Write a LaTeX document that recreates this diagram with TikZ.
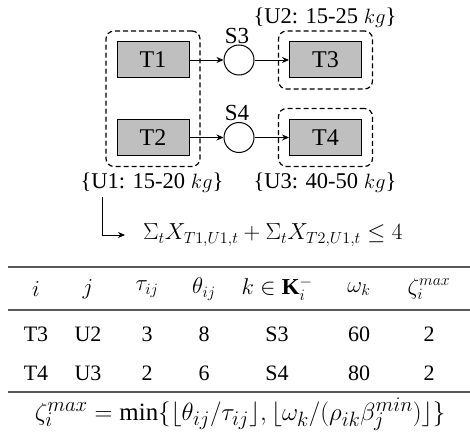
\documentclass[tikz,border=0pt]{standalone}
\usepackage{graphicx}
\usepackage{fontspec}
\setmainfont{Liberation Serif}
\usetikzlibrary{arrows.meta,fit}
\definecolor{boxgray}{RGB}{191,191,191}
\definecolor{rulegray}{RGB}{90,90,90}
\tikzset{
  tbox/.style={draw, line width=1pt, fill=boxgray, minimum width=72pt, minimum height=36pt, inner sep=0pt, font=\fontsize{24}{28}\selectfont},
  sbox/.style={draw, circle, line width=1pt, minimum size=30pt, inner sep=0pt},
  ubox/.style={draw, dashed, dash pattern=on 5pt off 3pt, line width=1.2pt, rounded corners=8pt, inner sep=10.5pt},
  slab/.style={font=\fontsize{23}{26}\selectfont, inner sep=0pt},
  ulab/.style={font=\fontsize{22.5}{26}\selectfont, inner sep=0pt},
  conn/.style={-{Stealth[length=7pt,width=6pt]}, line width=0.8pt},
  trule/.style={draw=rulegray, line width=1.3pt},
  tcell/.style={font=\fontsize{22}{26}\selectfont, inner sep=0pt},
  hcell/.style={font=\fontsize{20.74}{26}\selectfont, inner sep=0pt},
  fcell/.style={font=\fontsize{20.74}{26}\selectfont, inner sep=0pt},
  zcell/.style={font=\fontsize{24.88}{30}\selectfont, inner sep=0pt},
}
\begin{document}
\begin{tikzpicture}[x=1pt,y=-1pt]
\useasboundingbox (0,0) rectangle (470,433);
% process nodes
\node[tbox] (T1) at (153,60) {T1};
\node[tbox] (T2) at (153,137.5) {T2};
\node[tbox] (T3) at (325.5,60) {T3};
\node[tbox] (T4) at (325.5,137.5) {T4};
\node[sbox] (S3) at (239,60) {};
\node[sbox] (S4) at (239,137.5) {};
\node[slab] (S3l) at (237,36) {S3};
\node[slab] (S4l) at (237,113) {S4};
% unit groups
\node[ubox, fit=(T1)(T2)] (U1) {};
\node[ubox, fit=(T3)] (U2) {};
\node[ubox, fit=(T4)] (U3) {};
\node[ulab] (U1l) at (152,183) {\{U1: 15-20 $kg$\}};
\node[ulab] (U2l) at (325,18) {\{U2: 15-25 $kg$\}};
\node[ulab] (U3l) at (325,183) {\{U3: 40-50 $kg$\}};
% connectors
\draw[conn] (T1) -- (S3);
\draw[conn] (S3) -- (T3);
\draw[conn] (T2) -- (S4);
\draw[conn] (S4) -- (T4);
% constraint
\node[fcell, anchor=west] (sumf) at (143,235) {\scalebox{1.12}{$\Sigma_t X_{T1,U1,t} + \Sigma_t X_{T2,U1,t} \leq 4$}};
\coordinate (c1) at (102,197);
\coordinate (c2) at (125,235);
\draw[conn] (c1) |- (c2);
% table
\coordinate (r1a) at (8,267); \coordinate (r1b) at (470,267);
\coordinate (r2a) at (8,310); \coordinate (r2b) at (470,310);
\coordinate (r3a) at (8,392); \coordinate (r3b) at (470,392);
\draw[trule] (r1a) -- (r1b);
\draw[trule] (r2a) -- (r2b);
\draw[trule] (r3a) -- (r3b);
\node[hcell] (h1) at (36,289) {\scalebox{1.1}{$i$}};
\node[hcell] (h2) at (88,289) {\scalebox{1.1}{$j$}};
\node[hcell] (h3) at (147,289) {\scalebox{1.1}{$\tau_{ij}$}};
\node[hcell] (h4) at (204,289) {\scalebox{1.1}{$\theta_{ij}$}};
\node[hcell] (h5) at (277,289) {\scalebox{1.1}{$k\in\mathbf{K}_i^{-}$}};
\node[hcell] (h6) at (359,289) {\scalebox{1.1}{$\omega_k$}};
\node[hcell] (h7) at (429,289) {\scalebox{1.1}{$\zeta_i^{max}$}};
\node[tcell] (a1) at (36,334) {T3};
\node[tcell] (a2) at (88,334) {U2};
\node[tcell] (a3) at (147,334) {3};
\node[tcell] (a4) at (204,334) {8};
\node[tcell] (a5) at (277,334) {S3};
\node[tcell] (a6) at (359,334) {60};
\node[tcell] (a7) at (429,334) {2};
\node[tcell] (b1) at (36,373) {T4};
\node[tcell] (b2) at (88,373) {U3};
\node[tcell] (b3) at (147,373) {2};
\node[tcell] (b4) at (204,373) {6};
\node[tcell] (b5) at (277,373) {S4};
\node[tcell] (b6) at (359,373) {80};
\node[tcell] (b7) at (429,373) {2};
\node[zcell] (zf) at (240,414) {$\zeta_i^{max} = \min\bigl\{\bigl\lfloor\theta_{ij}/\tau_{ij}\bigr\rfloor, \bigl\lfloor\omega_k/\bigl(\rho_{ik}\beta_j^{min}\bigr)\bigr\rfloor\bigr\}$};
\end{tikzpicture}
\end{document}
